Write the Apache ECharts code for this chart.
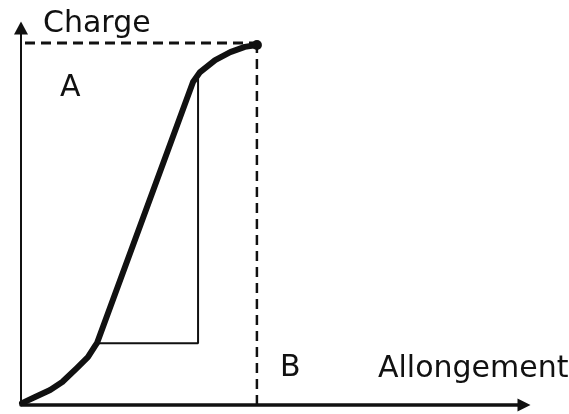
<!DOCTYPE html>
<html>
<head>
<meta charset="utf-8">
<script src="https://cdn.jsdelivr.net/npm/echarts@6/dist/echarts.min.js"></script>
<style>html,body{margin:0;padding:0;background:#fff}#c{width:569px;height:414px}</style>
</head>
<body>
<div id="c"></div>
<script>
// Curve (load vs. elongation), in axis units 0..100
const curveX = [0.2, 2.8, 5.8, 8.2, 11.1, 13.3, 14.7, 15.1, 34.2, 35.6, 38.6, 41.6, 44.5, 46.9];
const curveY = [0.5, 2.1, 4.0, 6.1, 9.8, 12.7, 15.6, 16.4, 85.7, 88.3, 91.5, 93.6, 95.0, 95.5];
// Dashed guide lines
const hDashX = [0.8, 46.9];
const hDashY = [96.0, 96.0];
const vDashX = [46.9, 46.9];
const vDashY = [0, 95.0];
// Thin slope triangle
const triX = [15.1, 35.2, 35.2];
const triY = [16.4, 16.4, 86.7];
// Texts
const axisNames = ['Charge', 'Allongement'];
const pointLabels = ['A', 'B'];

const zip = (xs, ys) => xs.map((x, i) => [x, ys[i]]);
const FONT = '"DejaVu Sans", sans-serif';

const chart = echarts.init(document.getElementById('c'), null, {renderer: 'canvas'});
chart.setOption({
  animation: false,
  backgroundColor: '#fff',
  grid: {left: 21, right: 45, top: 28, bottom: 9, containLabel: false},
  xAxis: {
    type: 'value', min: 0, max: 100,
    axisLine: {show: true, onZero: false, symbol: ['none', 'triangle'], symbolSize: [13, 13],
      lineStyle: {color: '#111', width: 3.5}},
    axisTick: {show: false}, axisLabel: {show: false}, splitLine: {show: false}
  },
  yAxis: {
    type: 'value', min: 0, max: 100,
    axisLine: {show: true, onZero: false, symbol: ['none', 'triangle'], symbolSize: [14, 13],
      lineStyle: {color: '#111', width: 2}},
    axisTick: {show: false}, axisLabel: {show: false}, splitLine: {show: false}
  },
  graphic: [
    {type: 'text', style: {x: 43, y: 24, text: axisNames[0], font: '30px ' + FONT, fill: '#111', verticalAlign: 'middle'}},
    {type: 'text', style: {x: 378, y: 369, text: axisNames[1], font: '30px ' + FONT, fill: '#111', verticalAlign: 'middle'}},
    {type: 'text', style: {x: 60, y: 88.5, text: pointLabels[0], font: '30px ' + FONT, fill: '#111', verticalAlign: 'middle'}},
    {type: 'text', style: {x: 280, y: 368, text: pointLabels[1], font: '30px ' + FONT, fill: '#111', verticalAlign: 'middle'}}
  ],
  series: [
    {type: 'line', data: zip(hDashX, hDashY), showSymbol: false, silent: true,
      lineStyle: {color: '#111', width: 3, type: [10, 6]}},
    {type: 'line', data: zip(vDashX, vDashY), showSymbol: false, silent: true,
      lineStyle: {color: '#111', width: 2.5, type: [10, 6]}},
    {type: 'line', data: zip(triX, triY), showSymbol: false, silent: true,
      lineStyle: {color: '#111', width: 2}},
    {type: 'line', data: zip(curveX, curveY), silent: true,
      symbol: (v, p) => p.dataIndex === curveX.length - 1 ? 'circle' : 'none', symbolSize: 10,
      itemStyle: {color: '#111'},
      lineStyle: {color: '#111', width: 6, join: 'round', cap: 'round'}}
  ]
});
</script>
</body>
</html>
